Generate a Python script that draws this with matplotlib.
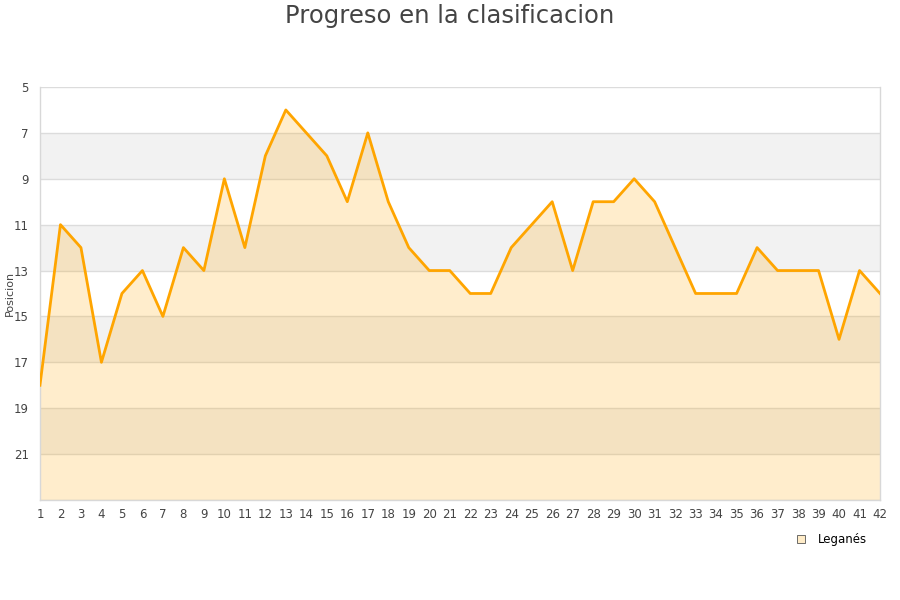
import matplotlib
matplotlib.use("Agg")
import matplotlib.pyplot as plt
from matplotlib.lines import Line2D

jornadas = list(range(1, 43))
posiciones = [18, 11, 12, 17, 14, 13, 15, 12, 13, 9, 12, 8, 6, 7, 8, 10, 7, 10, 12, 13,
              13, 14, 14, 12, 11, 10, 13, 10, 10, 9, 10, 12, 14, 14, 14, 12, 13, 13, 13, 16,
              13, 14]
y_ticks = [5, 7, 9, 11, 13, 15, 17, 19, 21]
team = "Leganés"
title = "Progreso en la clasificacion"

fig = plt.figure(figsize=(9, 6), dpi=100)
ax = fig.add_axes([0.0444, 0.1667, 0.9334, 0.6883])

ymin, ymax = 5, 23
# alternating bands
for i, y0 in enumerate(range(ymin, ymax, 2)):
    if i % 2 == 1:
        ax.axhspan(y0, y0 + 2, color="#f2f2f2", zorder=0, lw=0)
for y in y_ticks + [23]:
    ax.axhline(y, color="#dcdcdc", lw=1, zorder=1)

ax.fill_between(jornadas, posiciones, ymax, color="#ffa500", alpha=0.2, lw=0, zorder=2)
ax.plot(jornadas, posiciones, color="#ffa500", lw=2.0, zorder=3)

ax.set_xlim(1, 42)
ax.set_ylim(ymax, ymin)
ax.set_yticks(y_ticks)
ax.set_xticks(jornadas)
ax.tick_params(axis="both", length=0, labelsize=8.5, colors="#444444")
ax.tick_params(axis="x", pad=6)
ax.tick_params(axis="y", pad=8)
for s in ["top"]:
    ax.spines[s].set_visible(False)
for s in ["left", "bottom", "right"]:
    ax.spines[s].set_color("#d8d8d8")
    ax.spines[s].set_linewidth(1)

ax.set_ylabel("Posicion", fontsize=8, color="#444444")
ax.yaxis.set_label_coords(-0.03, 0.5)
fig.text(0.5, 0.974, title, fontsize=17.5, color="#444444", ha="center", va="center")

handle = Line2D([], [], marker="s", linestyle="none", markersize=6,
                markerfacecolor="#ffecc8", markeredgecolor="#555555", markeredgewidth=0.6)
fig.legend([handle], [team], loc="center", bbox_to_anchor=(0.92, 0.10), frameon=False,
           fontsize=8.5, handletextpad=0.4)

fig.savefig("out.png", dpi=100, facecolor="white")
